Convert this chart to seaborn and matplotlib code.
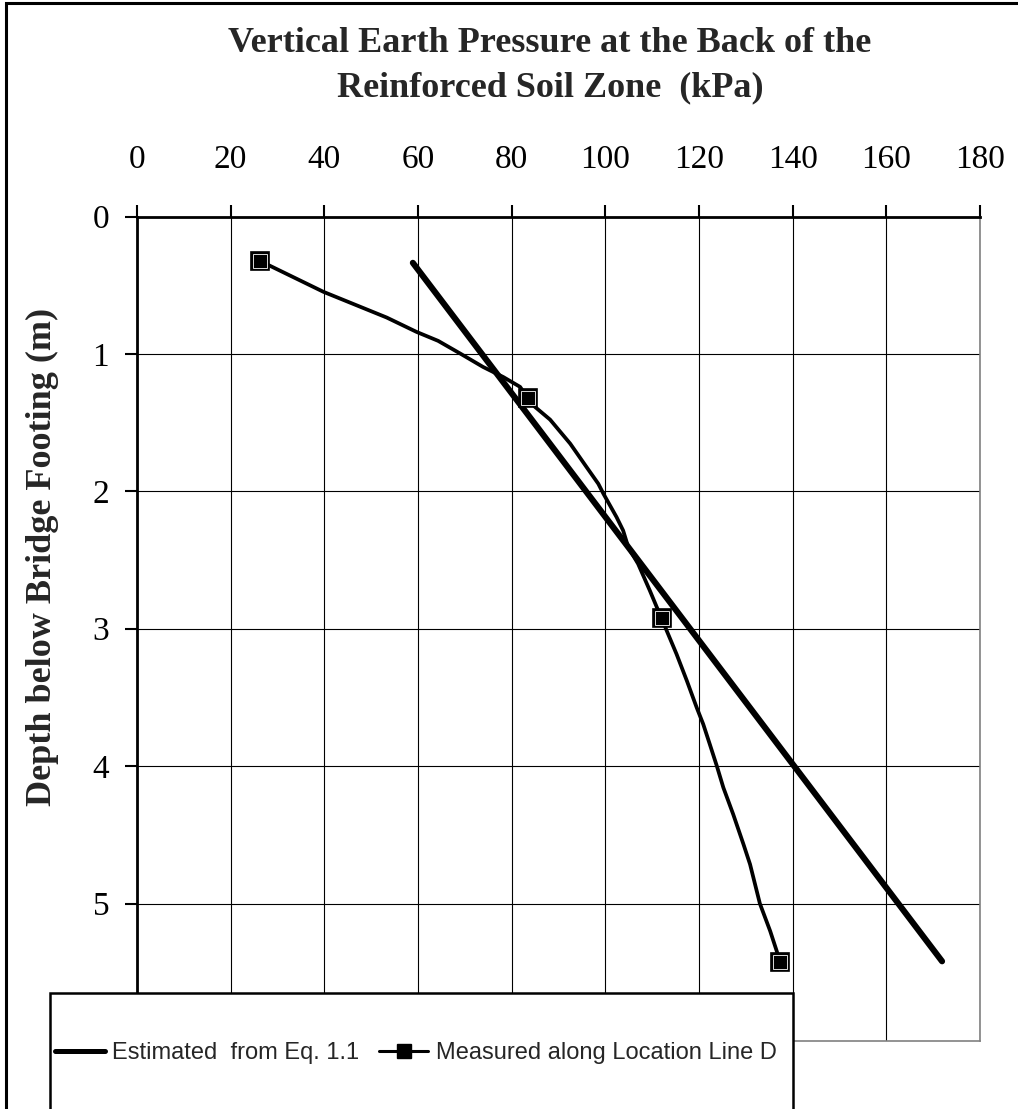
import matplotlib

matplotlib.use("Agg")
import matplotlib.pyplot as plt
import pandas as pd
import seaborn as sns
from matplotlib.lines import Line2D
from matplotlib.patches import Rectangle

# datos: presión vertical (kPa) contra profundidad (m)
EST_KPA = [58.9, 171.9]
EST_DEPTH = [0.337, 5.42]
MEAS_KPA = [26.3, 39.8, 53.3, 59.7, 64.3, 69.0, 73.9, 78.2, 81.8, 83.4, 85.0, 88.2, 92.5,
            96.0, 98.5, 99.6, 102.4, 103.8, 104.9, 107.0, 109.5, 111.0, 112.0, 113.1, 115.2,
            117.4, 119.5, 120.9, 122.3, 123.8, 125.2, 127.3, 129.5, 130.9, 133.0, 135.2,
            136.6, 137.3]
MEAS_DEPTH = [0.324, 0.548, 0.735, 0.84, 0.905, 0.997, 1.095, 1.168, 1.24, 1.32, 1.386,
              1.478, 1.653, 1.824, 1.945, 2.018, 2.188, 2.285, 2.407, 2.528, 2.722, 2.844,
              2.921, 3.014, 3.184, 3.378, 3.573, 3.694, 3.840, 3.998, 4.156, 4.35, 4.569,
              4.714, 5.0, 5.2, 5.346, 5.424]
PT_KPA = [26.3, 83.4, 112.0, 137.3]
PT_DEPTH = [0.324, 1.32, 2.921, 5.424]
X_TICKS = [0, 20, 40, 60, 80, 100, 120, 140, 160, 180]
Y_TICKS = [0, 1, 2, 3, 4, 5]
LABEL_EST = "Estimated  from Eq. 1.1"
LABEL_MEAS = "Measured along Location Line D"

sns.set_style("white")
plt.rcParams["font.family"] = ["Liberation Serif", "DejaVu Serif"]

W, H = 1018, 1109
fig = plt.figure(figsize=(W / 100, H / 100), dpi=100)
ax = fig.add_axes([137 / W, 1 - 1041 / H, (980 - 137) / W, (1041 - 216.5) / H])

est = pd.DataFrame({"kpa": EST_KPA, "depth": EST_DEPTH})
meas = pd.DataFrame({"kpa": MEAS_KPA, "depth": MEAS_DEPTH})
pts = pd.DataFrame({"kpa": PT_KPA, "depth": PT_DEPTH})

sns.lineplot(data=meas, x="kpa", y="depth", sort=False, estimator=None, color="black",
             lw=2.7, ax=ax, zorder=3)
sns.lineplot(data=est, x="kpa", y="depth", sort=False, estimator=None, color="black",
             lw=4.4, solid_capstyle="round", ax=ax, zorder=4)
ax.plot(pts.kpa, pts.depth, ls="", marker="s", ms=13, mfc="black", mec="black", mew=1.2, zorder=5)
ax.plot(pts.kpa, pts.depth, ls="", marker="s", ms=10, mfc="black", mec="white", mew=0.6, zorder=6)

ax.set_xlim(0, 180)
ax.set_ylim(6, 0)
ax.set_xticks(X_TICKS)
ax.set_yticks(Y_TICKS)
ax.xaxis.tick_top()
ax.tick_params(axis="x", top=True, bottom=False, direction="out", length=9, width=1.5,
               labelsize=24, pad=21, colors="black")
ax.tick_params(axis="y", left=True, direction="out", length=9, width=1.5,
               labelsize=24, pad=11, colors="black")
ax.grid(True, color="black", lw=0.8)
ax.set_axisbelow(True)
ax.set_xlabel("")
ax.set_ylabel("")
for sp in ("top", "left"):
    ax.spines[sp].set_color("black")
    ax.spines[sp].set_linewidth(2.0)
for sp in ("right", "bottom"):
    ax.spines[sp].set_color("#808080")
    ax.spines[sp].set_linewidth(1.2)

fig.text(550 / W, 1 - 43 / H, "Vertical Earth Pressure at the Back of the", ha="center",
         va="center", fontsize=26, fontweight="bold")
fig.text(550 / W, 1 - 88 / H, "Reinforced Soil Zone  (kPa)", ha="center", va="center",
         fontsize=26, fontweight="bold")
fig.text(42 / W, 1 - 557 / H, "Depth below Bridge Footing (m)", rotation=90, ha="center",
         va="center", fontsize=26, fontweight="bold")

# marco exterior del gráfico (solo se ven los lados izquierdo y superior)
fig.add_artist(Rectangle((6 / W, -0.1), 1.2, 1.1 - 3 / H, transform=fig.transFigure,
                         fill=False, ec="black", lw=2.2, zorder=1))
# caja de la leyenda, recortada por el borde inferior
fig.add_artist(Rectangle((50 / W, -0.1), (793 - 50) / W, 0.1 + 1 - 993 / H,
                         transform=fig.transFigure, fc="white", ec="black", lw=1.8, zorder=4))

handles = [
    Line2D([0], [0], color="black", lw=3.6, solid_capstyle="round", label=LABEL_EST),
    Line2D([0], [0], color="black", lw=2.2, marker="s", ms=10, mfc="black", mec="black",
           label=LABEL_MEAS),
]
leg = fig.legend(handles=handles, loc="center left", bbox_to_anchor=(55 / W, 1 - 1053 / H),
                 ncol=2, frameon=False, handlelength=2.1, handletextpad=0.3,
                 columnspacing=0.85, borderpad=0, borderaxespad=0,
                 prop={"family": "Liberation Sans", "size": 17})
leg.set_zorder(6)

fig.savefig("out.png", dpi=100)
